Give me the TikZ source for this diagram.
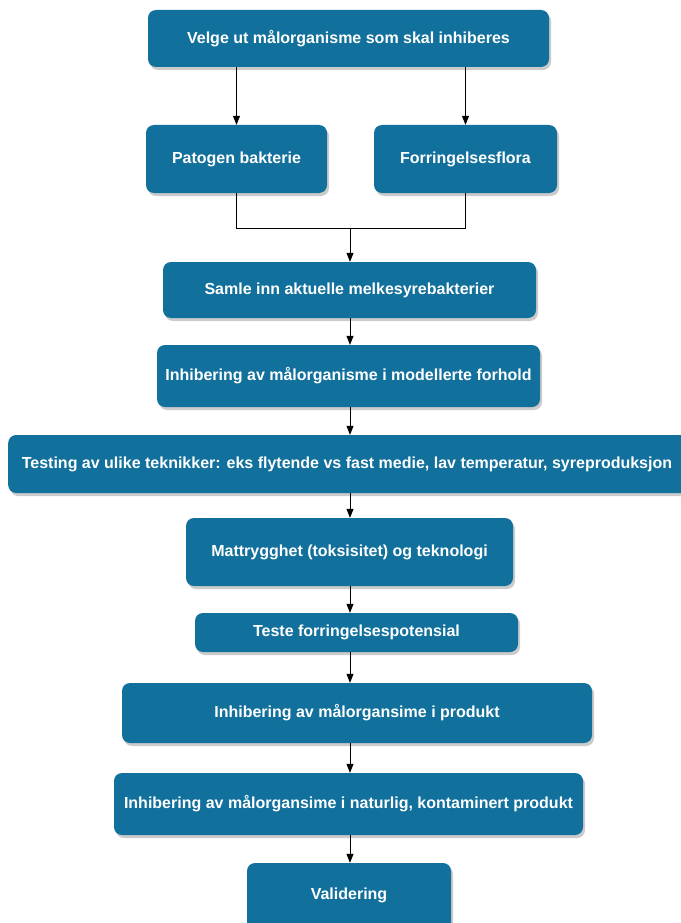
\documentclass[tikz,border=0pt]{standalone}
\usepackage{fontspec}
\setmainfont{Liberation Sans}
\usetikzlibrary{shadows,arrows.meta}
\definecolor{boxblue}{HTML}{11709C}
\begin{document}
\begin{tikzpicture}[x=1pt,y=-1pt,
  box/.style={fill=boxblue, rounded corners=8pt, text=white, inner sep=0pt,
    font=\bfseries\fontsize{16}{19}\selectfont,
    drop shadow={shadow xshift=2pt, shadow yshift=-3pt, fill=black!45, opacity=0.45}},
  lbl/.style={text=white, inner sep=0pt, font=\bfseries\fontsize{16}{19}\selectfont},
  arr/.style={-{Triangle[length=9pt,width=7pt]}, line width=0.8pt},
  ln/.style={line width=0.8pt}]
\useasboundingbox (0,0) rectangle (680,923);
\fill[white] (0,0) rectangle (680,923);
\node[box, minimum width=401pt, minimum height=57pt] (a) at (348.5,38.5) {Velge ut målorganisme som skal inhiberes};
\node[box, minimum width=181pt, minimum height=68pt] (b) at (236.5,159) {Patogen bakterie};
\node[box, minimum width=183pt, minimum height=68pt] (c) at (465.5,159) {Forringelsesflora};
\node[box, minimum width=373pt, minimum height=56pt] (d) at (349.5,290) {Samle inn aktuelle melkesyrebakterier};
\node[box, minimum width=383pt, minimum height=62pt] (e) at (348.5,376) {Inhibering av målorganisme i modellerte forhold};
\node[box, minimum width=684pt, minimum height=58pt, anchor=west] (f) at (8,464) {};
\node[lbl] (ft) at (347,464) {Testing av ulike teknikker: eks flytende vs fast medie, lav temperatur, syreproduksjon};
\node[box, minimum width=327pt, minimum height=68pt] (g) at (349.5,552) {Mattrygghet (toksisitet) og teknologi};
\node[box, minimum width=323pt, minimum height=39pt] (h) at (356.5,632.5) {Teste forringelsespotensial};
\node[box, minimum width=470pt, minimum height=60pt] (i) at (357,713) {Inhibering av målorgansime i produkt};
\node[box, minimum width=469pt, minimum height=62pt] (j) at (348.5,804) {Inhibering av målorgansime i naturlig, kontaminert produkt};
\node[box, minimum width=204pt, minimum height=70pt] (k) at (349,898) {};
\node[lbl] (kt) at (349,895) {Validering};
\coordinate (m) at (350,228);
\draw[arr] (a.south -| b) -- (b.north);
\draw[arr] (a.south -| c) -- (c.north);
\draw[ln] (b.south) |- (m);
\draw[ln] (c.south) |- (m);
\draw[arr] (m) -- (m |- d.north);
\draw[arr] (d.south -| m) -- (e.north -| m);
\draw[arr] (e.south -| m) -- (f.north -| m);
\draw[arr] (f.south -| m) -- (g.north -| m);
\draw[arr] (g.south -| m) -- (h.north -| m);
\draw[arr] (h.south -| m) -- (i.north -| m);
\draw[arr] (i.south -| m) -- (j.north -| m);
\draw[arr] (j.south -| m) -- (k.north -| m);
\end{tikzpicture}
\end{document}
